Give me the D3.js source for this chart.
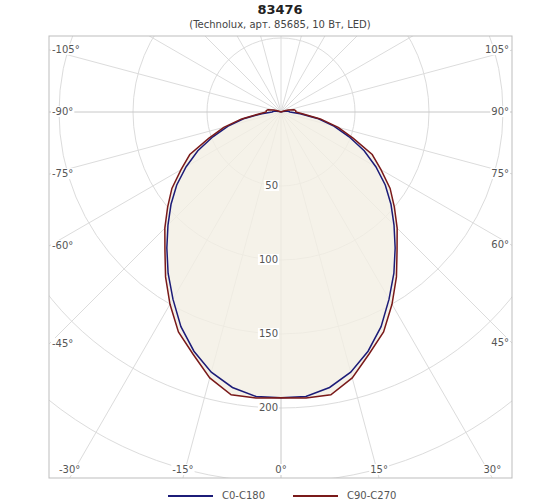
<!DOCTYPE html>
<html><head><meta charset="utf-8">
<script src="https://cdn.jsdelivr.net/npm/d3@7"></script>
<style>body{margin:0;background:#fff;font-family:"DejaVu Sans",sans-serif;}</style>
</head><body><svg width="560" height="504"></svg>
<script>
const angles = [-115,-110,-105,-100,-95,-90,-85,-80,-75,-70,-65,-60,-55,-50,-45,-40,-35,-30,-25,-20,-15,-10,-5,0,5,10,15,20,25,30,35,40,45,50,55,60,65,70,75,80,85,90,95,100,105,110,115];
const c0c180 = [0,0,1,3,5,6,13,25,37,49,62,74,86,97,108,120,133,146,160,172,182,189,193,193,193,189,182,172,160,146,133,120,108,97,86,74,62,49,37,25,13,6,5,3,1,0,0];
const c90c270 = [0,2,5,9,10,10,15,27,40,52,68,78,90,100,111,122,136,150,164,174,186,194,194,193,194,194,186,174,164,150,136,122,111,100,90,78,68,52,40,27,15,10,10,9,5,2,0];
const ringValues = [50,100,150,200,250,300,350];
const ringLabels = [50,100,150,200];
const spokeAngles = d3.range(-180, 180, 15);

const svg = d3.select('svg');
const box = {x0: 49, x1: 512, y0: 36, y1: 478};
const cx = 281, cy = 112;
const r = d3.scaleLinear().domain([0, 200]).range([0, 296]);

// title
svg.append('text').attr('x', 280).attr('y', 14).attr('text-anchor', 'middle')
  .attr('font-size', 13).attr('font-weight', 'bold').attr('fill', '#222').text('83476');
svg.append('text').attr('x', 280).attr('y', 28).attr('text-anchor', 'middle')
  .attr('font-size', 10).attr('fill', '#444').text('(Technolux, арт. 85685, 10 Вт, LED)');

svg.append('clipPath').attr('id', 'clip').append('rect')
  .attr('x', box.x0).attr('y', box.y0).attr('width', box.x1 - box.x0).attr('height', box.y1 - box.y0);

const g = svg.append('g').attr('clip-path', 'url(#clip)');
const pt = (a, v) => [cx - Math.sin(a * Math.PI / 180) * r(v), cy + Math.cos(a * Math.PI / 180) * r(v)];

ringValues.forEach(v => g.append('circle').attr('cx', cx).attr('cy', cy).attr('r', r(v))
  .attr('fill', 'none').attr('stroke', '#dcdcdc').attr('stroke-width', 1));
spokeAngles.forEach(a => {
  const [x, y] = pt(a, 400);
  g.append('line').attr('x1', cx).attr('y1', cy).attr('x2', x).attr('y2', y)
    .attr('stroke', a === 0 || a === 90 || a === -90 ? '#c8c8c8' : '#dcdcdc').attr('stroke-width', 1);
});

const line = d3.lineRadial().angle(d => Math.PI - d[0] * Math.PI / 180).radius(d => r(d[1]));
const pg = g.append('g').attr('transform', `translate(${cx},${cy})`);
const redData = angles.map((a, i) => [-a, c90c270[i]]);
const blueData = angles.map((a, i) => [-a, c0c180[i]]);
pg.append('path').attr('d', line(redData) + 'Z').attr('fill', '#f3efe4').attr('fill-opacity', 0.8);
// redraw spokes faintly over fill
pg.append('path').attr('d', line(blueData)).attr('fill', 'none').attr('stroke', '#1c1c78').attr('stroke-width', 1.5);
pg.append('path').attr('d', line(redData)).attr('fill', 'none').attr('stroke', '#7a1a1a').attr('stroke-width', 1.5);

svg.append('rect').attr('x', box.x0).attr('y', box.y0).attr('width', box.x1 - box.x0).attr('height', box.y1 - box.y0)
  .attr('fill', 'none').attr('stroke', '#bdbdbd');

// angle labels at box edge
function label(x, y, txt, anchor) {
  const t = svg.append('text').attr('x', x).attr('y', y).attr('text-anchor', anchor)
    .attr('font-size', 10).attr('fill', '#555').attr('dominant-baseline', 'middle').text(txt);
  const bb = t.node().getBBox();
  svg.insert('rect', () => t.node()).attr('x', bb.x - 1).attr('y', bb.y).attr('width', bb.width + 2).attr('height', bb.height).attr('fill', '#fff');
}
d3.range(-105, 106, 15).forEach(a => {
  const s = Math.sin(Math.abs(a) * Math.PI / 180), c = Math.cos(Math.abs(a) * Math.PI / 180);
  const dxSide = a < 0 ? cx - box.x0 : box.x1 - cx;
  const ySide = cy + dxSide * c / s;
  const txt = (a < 0 ? '-' : '') + Math.abs(a) + '°';
  if (ySide < box.y1 - 10) {
    if (a < 0) label(box.x0 + 3, ySide, txt, 'start');
    else label(box.x1 - 3, ySide, txt, 'end');
  } else {
    const dy = box.y1 - cy;
    const x = cx + (a < 0 ? -1 : 1) * dy * s / c;
    label(Math.max(box.x0 + 14, Math.min(box.x1 - 14, x)), box.y1 - 8, (a < 0 ? '-' : '') + Math.abs(a) + '°', 'middle');
  }
});
ringLabels.forEach(v => label(cx - 3, cy + r(v), v, 'end'));

// legend
const leg = [['C0-C180', '#1c1c78', 168], ['C90-C270', '#7a1a1a', 293]];
leg.forEach(([name, col, x]) => {
  svg.append('line').attr('x1', x).attr('x2', x + 45).attr('y1', 496).attr('y2', 496).attr('stroke', col).attr('stroke-width', 2);
  svg.append('text').attr('x', x + 54).attr('y', 496).attr('dominant-baseline', 'middle')
    .attr('font-size', 10).attr('fill', '#555').text(name);
});
</script></body></html>
